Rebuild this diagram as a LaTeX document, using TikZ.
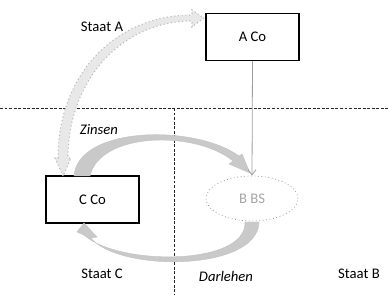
\documentclass[tikz,border=0pt]{standalone}
\usepackage{fontspec}
\setmainfont{Carlito}
\usetikzlibrary{arrows.meta,shapes.geometric}
\begin{document}
\begin{tikzpicture}[x=0.75pt,y=-0.75pt,
  font=\fontsize{11}{13}\selectfont,
  boxnode/.style={draw=black,line width=1.1pt,minimum width=93*0.75pt,minimum height=47*0.75pt,inner sep=0pt},
  bsnode/.style={ellipse,draw=gray!80,dotted,line width=0.6pt,minimum width=92*0.75pt,minimum height=45*0.75pt,inner sep=0pt,text=gray!70},
  sepline/.style={draw=black!85,dashed,dash pattern=on 2.2pt off 1.2pt,line width=0.7pt},
  blockarrow/.style={fill=gray!42,draw=gray!48,line width=0.3pt},
  dotarrow/.style={fill=gray!18,draw=gray!55,dotted,line width=0.8pt},
  lbl/.style={inner sep=0pt}]
\useasboundingbox (0,0) rectangle (388,295);
\fill[white] (0,0) rectangle (388,295);
% separators
\coordinate (hl) at (0,108);
\coordinate (hr) at (388,108);
\coordinate (vt) at (174,108);
\coordinate (vb) at (174,295);
\draw[sepline] (hl) -- (hr);
\draw[sepline] (vt) -- (vb);
% nodes
\node[boxnode] (aco) at (252.5,37) {A Co};
\node[boxnode] (cco) at (92.5,199.5) {C Co};
\node[bsnode] (bbs) at (252,198.5) {B BS};
% labels
\node[lbl] (sa) at (102,27) {Staat A};
\node[lbl] (sc) at (102,274) {Staat C};
\node[lbl] (sb) at (359,274) {Staat B};
\node[lbl,font=\fontsize{11}{13}\selectfont\itshape] (zi) at (99,130) {Zinsen};
\node[lbl,font=\fontsize{11}{13}\selectfont\itshape] (da) at (226,276) {Darlehen};
% dotted double arrow C Co <-> A Co
\draw[dotarrow] (63,176) -- (55,158) -- (58,158)
  .. controls (58,75) and (115,15) .. (192,15) -- (192,10) -- (204,18) -- (192,27) -- (192,21)
  .. controls (122,21) and (68,80) .. (68,158) -- (71,158) -- cycle;
% Zinsen block arrow
\draw[blockarrow] (74,176) .. controls (78,126) and (195,124) .. (239,156)
  -- (242,154) -- (250,173) -- (229,164) -- (233,161)
  .. controls (195,130) and (100,132) .. (90,176) -- cycle;
% Darlehen block arrow
\draw[blockarrow] (245,222) .. controls (247,266) and (118,266) .. (84,235)
  -- (77,232) -- (84,223) -- (97,237) -- (91,238)
  .. controls (118,272) and (258,272) .. (259,222) -- cycle;
% connector A Co -> B BS
\draw[gray!75,line width=0.6pt,-{Straight Barb[length=4pt,width=6pt]}] (aco.south) -- (bbs.north);
\end{tikzpicture}
\end{document}
